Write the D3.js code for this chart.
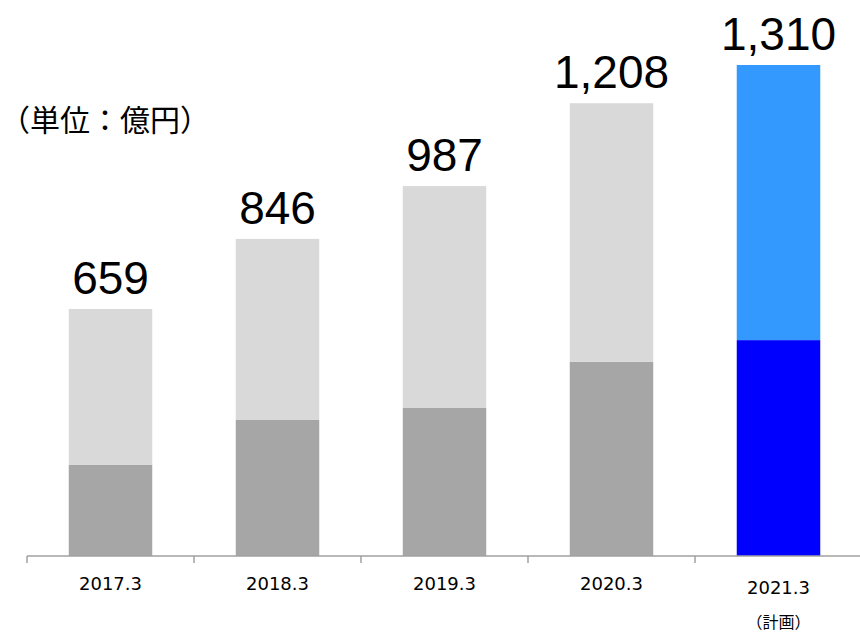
<!DOCTYPE html>
<html>
<head>
<meta charset="utf-8">
<script src="https://cdn.jsdelivr.net/npm/d3@7"></script>
<style>
  html, body { margin: 0; padding: 0; background: #fff; }
  svg { display: block; }
</style>
</head>
<body>
<svg id="chart" width="860" height="633"></svg>
<script>
// Fiscal years (March year-end); the last one is a plan figure
const categories = ["2017.3", "2018.3", "2019.3", "2020.3", "2021.3"];
// Lower segment of each bar (億円)
const baseValues = [243, 363, 395, 518, 576];
// Bar totals, shown as labels above each bar (億円)
const totalValues = [659, 846, 987, 1208, 1310];
// Which years are plans rather than results
const isPlan = [false, false, false, false, true];
const planNote = "（計画）";
const unitLabel = "（単位：億円）";

const colors = {
  actualBase: "#a6a6a6",
  actualTop: "#d9d9d9",
  planBase: "#0000ff",
  planTop: "#3399ff",
  axis: "#a0a0a0"
};

const svg = d3.select("#chart");
const baseline = 556;

const x = d3.scaleBand()
  .domain(categories)
  .range([27, 862])
  .paddingInner(0.5)
  .paddingOuter(0.25);

const y = d3.scaleLinear()
  .domain([0, 1310])
  .range([baseline, 65]);

const rows = categories.map((c, i) => ({
  cat: c, base: baseValues[i], total: totalValues[i], plan: isPlan[i]
}));

// Lower segments
svg.append("g").selectAll("rect")
  .data(rows).join("rect")
  .attr("x", d => x(d.cat))
  .attr("width", x.bandwidth())
  .attr("y", d => y(d.base))
  .attr("height", d => y(0) - y(d.base))
  .attr("fill", d => d.plan ? colors.planBase : colors.actualBase);

// Upper segments, stacked up to the total
svg.append("g").selectAll("rect")
  .data(rows).join("rect")
  .attr("x", d => x(d.cat))
  .attr("width", x.bandwidth())
  .attr("y", d => y(d.total))
  .attr("height", d => y(d.base) - y(d.total))
  .attr("fill", d => d.plan ? colors.planTop : colors.actualTop);

// Total labels
svg.append("g").selectAll("text")
  .data(rows).join("text")
  .attr("x", d => x(d.cat) + x.bandwidth() / 2)
  .attr("y", d => y(d.total) - 15)
  .attr("text-anchor", "middle")
  .attr("font-family", "'Liberation Sans', Arial, sans-serif")
  .attr("font-size", 46)
  .attr("fill", "#000")
  .text(d => d3.format(",")(d.total));

// Category axis: baseline with ticks between the bands
const step = x.step();
const edges = categories.map(c => x(c) - step * x.paddingInner() / 2);
edges.push(edges[edges.length - 1] + step);

const axis = svg.append("g");
axis.append("line")
  .attr("x1", x.range()[0]).attr("x2", x.range()[1])
  .attr("y1", baseline).attr("y2", baseline)
  .attr("stroke", colors.axis).attr("stroke-width", 1.5);
axis.selectAll("line.tick")
  .data(edges).join("line")
  .attr("class", "tick")
  .attr("x1", d => d).attr("x2", d => d)
  .attr("y1", baseline).attr("y2", baseline + 7)
  .attr("stroke", colors.axis).attr("stroke-width", 1.5);

axis.selectAll("text.cat")
  .data(rows).join("text")
  .attr("class", "cat")
  .attr("x", d => x(d.cat) + x.bandwidth() / 2)
  .attr("y", d => d.plan ? 594 : 590)
  .attr("text-anchor", "middle")
  .attr("font-family", "'DejaVu Sans', Verdana, sans-serif")
  .attr("font-size", 18)
  .attr("fill", "#000")
  .text(d => d.cat);

axis.selectAll("text.note")
  .data(rows.filter(d => d.plan)).join("text")
  .attr("class", "note")
  .attr("x", d => x(d.cat) + x.bandwidth() / 2)
  .attr("y", 628)
  .attr("text-anchor", "middle")
  .attr("font-family", "'Noto Sans CJK JP', sans-serif")
  .attr("font-size", 16)
  .attr("fill", "#000")
  .text(planNote);

// Unit caption
svg.append("text")
  .attr("x", 0)
  .attr("y", 131)
  .attr("font-family", "'Noto Sans CJK JP', sans-serif")
  .attr("font-size", 30)
  .attr("fill", "#000")
  .text(unitLabel);
</script>
</body>
</html>
